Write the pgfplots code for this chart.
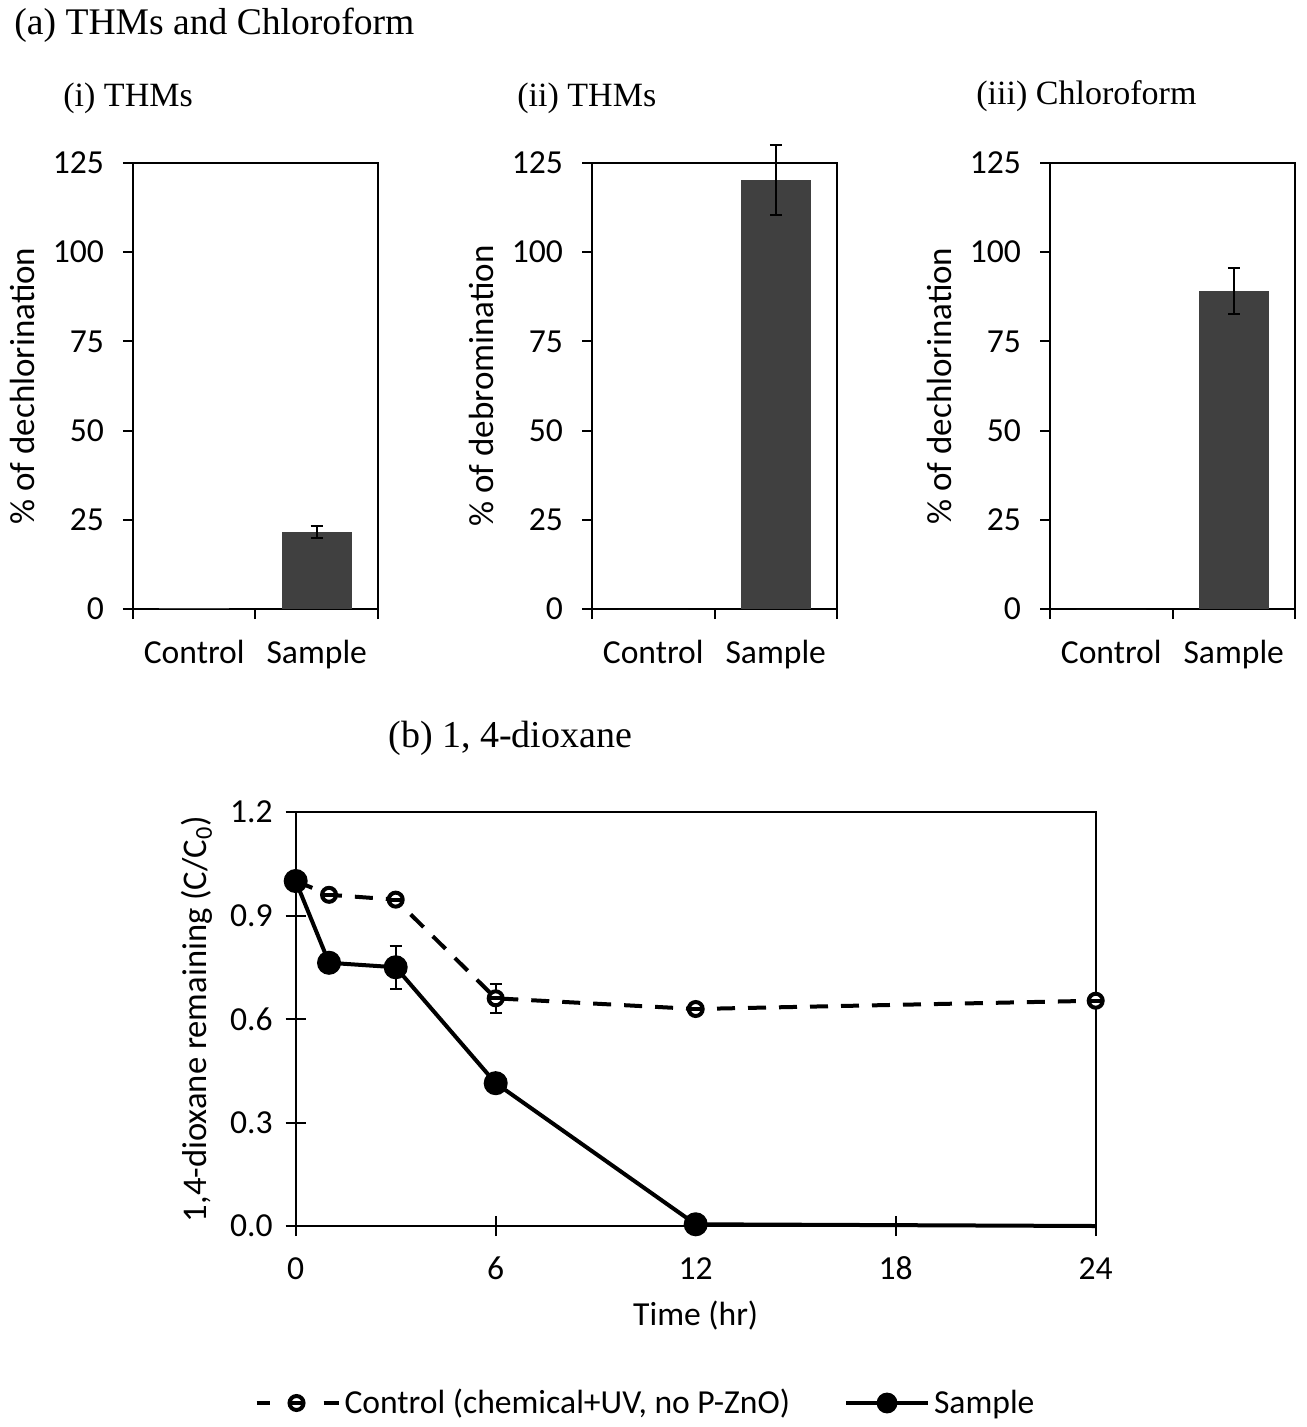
\documentclass[border=0pt]{standalone}
\usepackage{fontspec}
\setmainfont{Carlito}
\newfontfamily\seriffont{Liberation Serif}
\usepackage{pgfplots}
\pgfplotsset{compat=1.18}
\definecolor{barfill}{HTML}{404040}
\pgfdeclareplotmark{thetacirc}{%
  \pgfpathcircle{\pgfpointorigin}{\pgfplotmarksize}%
  \pgfusepathqfillstroke
  \pgfpathmoveto{\pgfpoint{-\pgfplotmarksize}{0pt}}%
  \pgfpathlineto{\pgfpoint{\pgfplotmarksize}{0pt}}%
  \pgfusepathqstroke
}
\pgfplotsset{
  barax/.style={
    scale only axis, width=122.5pt, height=223pt, anchor=south west,
    xmin=-0.5, xmax=1.5, ymin=0, ymax=125,
    xtick={0,1}, xticklabels={Control,Sample},
    minor xtick={-0.5,0.5,1.5},
    ytick={0,25,50,75,100,125},
    tick align=outside, major tick length=5pt, minor tick length=5pt,
    xtick pos=bottom, ytick pos=left,
    tick style={line width=1pt, black},
    major x tick style={draw=none},
    axis line style={line width=1pt},
    font=\fontsize{16.8}{20}\selectfont,
    /pgf/number format/assume math mode=true,
    xticklabel style={yshift=-7pt},
    yticklabel style={xshift=-6pt},
    clip=false,
    every axis y label/.style={at={(axis description cs:-0.452,0.5)}, rotate=90, anchor=center, font=\fontsize{17.5}{20}\selectfont},
  },
  barplot/.style={ybar, bar width=35pt, bar shift=0pt, fill=barfill, draw=none},
  errplot/.style={error bars/.cd, y dir=both, y explicit,
    error bar style={line width=1pt, black, solid},
    error mark options={rotate=90, mark size=3pt, line width=1pt, black, solid}},
}
\begin{document}
\begin{tikzpicture}
\path[use as bounding box] (0,0) rectangle (653pt,-713.5pt);
\node[anchor=west, inner sep=0pt, font=\seriffont\fontsize{18.8}{22}\selectfont] at (7pt,-12.5pt) {(a) THMs and Chloroform};
\node[anchor=west, inner sep=0pt, font=\seriffont\fontsize{17}{20}\selectfont] at (31.5pt,-49pt) {(i) THMs};
\node[anchor=west, inner sep=0pt, font=\seriffont\fontsize{17}{20}\selectfont] at (258.5pt,-49pt) {(ii) THMs};
\node[anchor=west, inner sep=0pt, font=\seriffont\fontsize{17}{20}\selectfont] at (488pt,-48pt) {(iii) Chloroform};
\node[anchor=west, inner sep=0pt, font=\seriffont\fontsize{19}{22}\selectfont] at (194pt,-369pt) {(b) 1, 4-dioxane};

\begin{axis}[barax, at={(66.5pt,-304.5pt)}, ylabel={\% of dechlorination}]
\addplot[barplot] coordinates {(0,0.3)};
\addplot[barplot, errplot] coordinates {(1,21.6) +- (0,1.8)};
\end{axis}

\begin{axis}[barax, at={(296pt,-304.5pt)}, ylabel={\% of debromination}]
\addplot[barplot] coordinates {(0,0)};
\addplot[barplot, errplot] coordinates {(1,120.2) +- (0,9.9)};
\end{axis}

\begin{axis}[barax, at={(525pt,-304.5pt)}, ylabel={\% of dechlorination}]
\addplot[barplot] coordinates {(0,0)};
\addplot[barplot, errplot] coordinates {(1,89.2) +- (0,6.5)};
\end{axis}

\begin{axis}[scale only axis, width=400pt, height=207pt, anchor=south west, at={(147.85pt,-613pt)},
  xmin=0, xmax=24, ymin=0, ymax=1.2,
  xtick={0,6,12,18,24}, ytick={0,0.3,0.6,0.9,1.2},
  yticklabel style={xshift=-3pt, /pgf/number format/.cd, fixed, fixed zerofill, precision=1},
  xticklabel style={anchor=base, yshift=-21.5pt},
  tick align=center, major tick length=10pt,
  xtick pos=bottom, ytick pos=left,
  tick style={line width=1pt, black},
  axis line style={line width=1pt},
  font=\fontsize{16.8}{20}\selectfont,
  /pgf/number format/assume math mode=true,
  clip=false,
  xlabel={Time (hr)},
  ylabel={1,4-dioxane remaining (C/C\textsubscript{0})},
  every axis x label/.style={at={(axis description cs:0.5,-0.217)}, anchor=center},
  every axis y label/.style={at={(axis description cs:-0.1234,0.5)}, rotate=90, anchor=center, font=\fontsize{17.3}{20}\selectfont},
  legend style={at={(axis description cs:0.4385,-0.4275)}, anchor=center, draw=none, fill=none,
    legend columns=2, font=\fontsize{16.8}{20}\selectfont,
    nodes={inner sep=2pt},
    /tikz/every even column/.append style={column sep=25pt}},
]
\addplot[black, line width=2pt, dash pattern=on 9pt off 6.5pt,
  mark=thetacirc, mark options={solid, fill=white, line width=2pt, mark size=3.5pt},
  legend image code/.code={
    \draw[solid, black, line width=2pt] (0pt,0pt) -- (6.5pt,0pt);
    \draw[solid, black, line width=2pt] (33.5pt,0pt) -- (41pt,0pt);
    \draw[solid, black, line width=1.8pt, fill=white] plot[mark=thetacirc, mark size=2.3pt] coordinates {(20pt,0pt)};
  }, errplot]
  coordinates {(0,1.0) +- (0,0) (1,0.960) +- (0,0.01) (3,0.946) +- (0,0.012) (6,0.660) +- (0,0.042) (12,0.629) +- (0,0.008) (24,0.653) +- (0,0.008)};
\addlegendentry{Control (chemical+UV, no P-ZnO)}
\addplot[black, line width=2pt, mark=*, mark options={solid, fill=black, mark size=5pt},
  legend image code/.code={
    \draw[solid, black, line width=2pt] (0pt,0pt) -- (41pt,0pt);
    \fill[black] (20.5pt,0pt) circle (4.2pt);
  }, errplot]
  coordinates {(0,1.0) +- (0,0) (1,0.763) +- (0,0) (3,0.750) +- (0,0.063) (6,0.414) +- (0,0) (12,0.005) +- (0,0)};
\addlegendentry{Sample}
\addplot[black, line width=2pt, forget plot] coordinates {(12,0.005) (24,0.0)};
\end{axis}
\end{tikzpicture}
\end{document}
